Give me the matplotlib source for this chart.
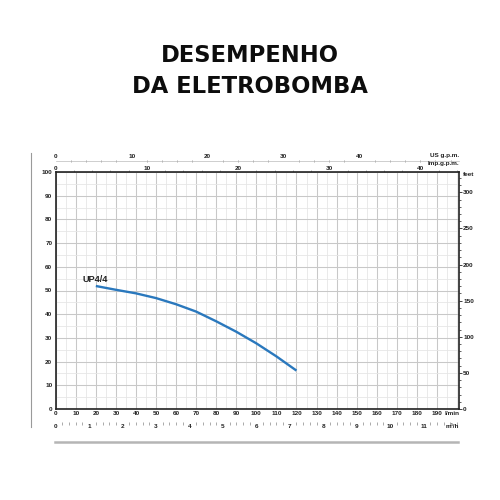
import matplotlib
matplotlib.use("Agg")
import matplotlib.pyplot as plt
from matplotlib.lines import Line2D
from matplotlib.ticker import MultipleLocator, FixedLocator
import numpy as np

# ---- data ----
title_lines = ["DESEMPENHO", "DA ELETROBOMBA"]
curve_label = "UP4/4"
flow_lpm = [20, 30, 40, 50, 60, 70, 80, 90, 100, 110, 120]
head_m = [51.9, 50.3, 48.8, 46.8, 44.2, 41.1, 37.0, 32.6, 27.7, 22.2, 16.2]
x_ticks_lpm = list(range(0, 200, 10))
y_ticks_m = list(range(0, 101, 10))
feet_ticks = list(range(0, 301, 50))
us_ticks = [0, 10, 20, 30, 40]
imp_ticks = [0, 10, 20, 30, 40]
m3h_ticks = list(range(0, 12))

FT_PER_M = 3.28084
LPM_PER_USGPM = 3.78541
LPM_PER_IMPGPM = 4.54609
LPM_PER_M3H = 1000 / 60

W, H = 500, 500
fig = plt.figure(figsize=(5, 5), dpi=100)

L, R, T, B = 55.7, 459.0, 172.0, 409.0
ax = fig.add_axes([L / W, 1 - B / H, (R - L) / W, (B - T) / H])
XMAX = 201.0
ax.set_xlim(0, XMAX)
ax.set_ylim(0, 100)

tick_font = dict(family="Liberation Sans", weight="bold", size=4.6)
blk = "#222222"

# grid
ax.xaxis.set_major_locator(FixedLocator(x_ticks_lpm))
ax.xaxis.set_minor_locator(MultipleLocator(5))
ax.yaxis.set_major_locator(FixedLocator(y_ticks_m))
ax.yaxis.set_minor_locator(MultipleLocator(5))
ax.grid(which="major", color="#c8c8c8", lw=0.75)
ax.grid(which="minor", color="#e6e6e6", lw=0.6)
ax.set_axisbelow(True)
ax.tick_params(which="both", length=0, pad=1.5, colors=blk)
ax.tick_params(axis="y", pad=2.5)
for lab in ax.get_xticklabels() + ax.get_yticklabels():
    lab.set(**tick_font)
for s in ax.spines.values():
    s.set_color(blk)
    s.set_linewidth(1.2)

# curve
ax.plot(flow_lpm, head_m, color="#2a78bd", lw=1.7, solid_capstyle="butt", zorder=5)
ax.text(flow_lpm[0] - 6.5, head_m[0] + 1.0, curve_label, fontsize=6.6,
        fontweight="bold", family="Liberation Sans", color=blk, va="bottom")

ax.text(XMAX + 0.3, -0.9, "l/min", ha="right", va="top", **tick_font, color=blk)

# right axis feet
axr = ax.twinx()
axr.set_ylim(0, 100 * FT_PER_M)
axr.yaxis.set_major_locator(FixedLocator(feet_ticks))
axr.yaxis.set_minor_locator(MultipleLocator(10))
axr.tick_params(which="major", length=2, width=0.6, pad=1, colors=blk)
axr.tick_params(which="minor", length=1.3, width=0.5, colors=blk)
for lab in axr.get_yticklabels():
    lab.set(**tick_font)
    lab.set_color(blk)
for s in axr.spines.values():
    s.set_visible(False)
ax.text(1.01, 0.99, "feet", transform=ax.transAxes, ha="left", va="center",
        **tick_font, color=blk)

# top: Imp g.p.m.
imp = ax.secondary_xaxis("top", functions=(lambda q: q / LPM_PER_IMPGPM,
                                           lambda g: g * LPM_PER_IMPGPM))
imp.xaxis.set_major_locator(FixedLocator(imp_ticks))
imp.xaxis.set_minor_locator(MultipleLocator(2))
imp.tick_params(which="major", length=0, pad=1, colors=blk)
imp.tick_params(which="minor", length=1.5, width=0.5, direction="out", colors="#888888")
imp.spines["top"].set_visible(False)
for lab in imp.get_xticklabels():
    lab.set(**tick_font)
ax.text(1.0, 1.025, "Imp.g.p.m.", transform=ax.transAxes, ha="right",
        va="bottom", **tick_font, color=blk)

# top: US g.p.m.
us_loc = 1 + (T - 161) / (B - T)
us = ax.secondary_xaxis(us_loc, functions=(lambda q: q / LPM_PER_USGPM,
                                          lambda g: g * LPM_PER_USGPM))
us.xaxis.set_major_locator(FixedLocator(us_ticks))
us.xaxis.set_minor_locator(MultipleLocator(2))
us.tick_params(which="major", length=0, pad=1.2, colors=blk)
us.tick_params(which="minor", length=1.5, width=0.5, direction="inout", colors="#888888")
us.spines["top"].set_color("#bbbbbb")
us.spines["top"].set_linewidth(0.5)
for lab in us.get_xticklabels():
    lab.set(**tick_font)
ax.text(1.0, us_loc + 0.012, "US g.p.m.", transform=ax.transAxes, ha="right",
        va="bottom", **tick_font, color=blk)

# bottom: m3/h
m3_loc = -(421.5 - B) / (B - T)
m3 = ax.secondary_xaxis(m3_loc, functions=(lambda q: q / LPM_PER_M3H,
                                          lambda m: m * LPM_PER_M3H))
m3.xaxis.set_major_locator(FixedLocator(m3h_ticks))
m3.xaxis.set_minor_locator(MultipleLocator(0.2))
m3.tick_params(which="major", length=0, pad=1.5, colors=blk)
m3.tick_params(which="minor", length=2, width=0.5, direction="out", colors="#888888")
m3.spines["bottom"].set_visible(False)
for lab in m3.get_xticklabels():
    lab.set(**tick_font)
ax.text(1.0, m3_loc - 0.01, "m³/h", transform=ax.transAxes, ha="right",
        va="top", **tick_font, color=blk)

# decorative lines
fig.add_artist(Line2D([31 / W, 31 / W], [1 - 153 / H, 1 - 427 / H],
                      color="#9a9a9a", lw=0.8))
fig.add_artist(Line2D([55 / W, 458 / W], [1 - 442 / H, 1 - 442 / H],
                      color="#b5b5b5", lw=1.8))

# title
fig.text(0.5, 1 - 55.5 / H, title_lines[0], ha="center", va="center",
         fontsize=16.3, family="DejaVu Sans", fontweight="bold", color="#0d0d0d")
fig.text(0.5, 1 - 86.7 / H, title_lines[1], ha="center", va="center",
         fontsize=16.3, family="DejaVu Sans", fontweight="bold", color="#0d0d0d")

fig.savefig("out.png", dpi=100)
